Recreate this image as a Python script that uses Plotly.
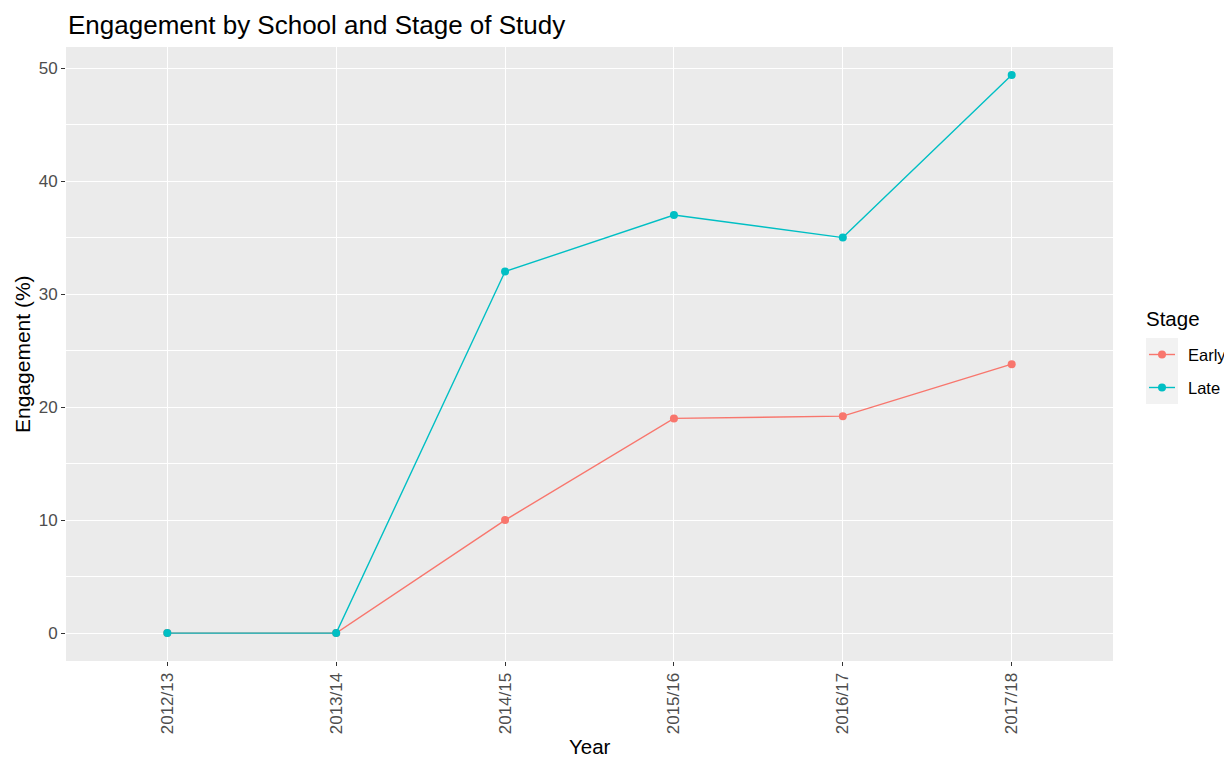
import plotly.graph_objects as go

years = ["2012/13", "2013/14", "2014/15", "2015/16", "2016/17", "2017/18"]
early = [0, 0, 10.0, 19.0, 19.2, 23.8]
late = [0, 0, 32.0, 37.0, 35.0, 49.4]
stage_names = ["Early", "Late"]
stage_colors = ["#F8766D", "#00BFC4"]
y_ticks = [0, 10, 20, 30, 40, 50]

FONT = "Liberation Sans, Arial, sans-serif"

# page body has an 8px margin; work in window pixels and convert
OFF = 8
W, H = 1232 - OFF, 759 - OFF
PX0, PX1, PY0, PY1 = 66, 1113, 47, 661  # panel in window pixels
L, R, T, B = PX0 - OFF, W - (PX1 - OFF), PY0 - OFF, H - (PY1 - OFF)
pw, ph = W - L - R, H - T - B


def px_x(x):
    return (x - OFF - L) / pw


def px_y(y):
    return (H - B - (y - OFF)) / ph


fig = go.Figure()
for name, vals, col in zip(stage_names, [early, late], stage_colors):
    fig.add_trace(go.Scatter(
        x=years, y=vals, name=name, mode="lines+markers",
        line=dict(color=col, width=1.4),
        marker=dict(color=col, size=8),
        showlegend=False,
    ))

# manual ggplot-style legend
shapes = []
annotations = []
key_rows = [(338, 371), (371, 404)]
for (y0, y1), name, col in zip(key_rows, stage_names, stage_colors):
    shapes.append(dict(type="rect", xref="paper", yref="paper",
                       x0=px_x(1146), x1=px_x(1178), y0=px_y(y1), y1=px_y(y0),
                       fillcolor="#F2F2F2", line=dict(width=0), layer="below"))
    yc = (y0 + y1) / 2
    shapes.append(dict(type="line", xref="paper", yref="paper",
                       x0=px_x(1149), x1=px_x(1175), y0=px_y(yc), y1=px_y(yc),
                       line=dict(color=col, width=1.4)))
    shapes.append(dict(type="circle", xref="paper", yref="paper",
                       x0=px_x(1158), x1=px_x(1166), y0=px_y(yc + 4), y1=px_y(yc - 4),
                       fillcolor=col, line=dict(color=col, width=0)))
    annotations.append(dict(text=name, xref="paper", yref="paper",
                            x=px_x(1186), y=px_y(yc), xanchor="left", yanchor="middle",
                            showarrow=False, font=dict(size=16.5, color="black", family=FONT)))

annotations.append(dict(text="Stage", xref="paper", yref="paper",
                        x=px_x(1144), y=px_y(318), xanchor="left", yanchor="middle",
                        showarrow=False, font=dict(size=20.5, color="black", family=FONT)))
annotations.append(dict(text="Year", xref="paper", yref="paper",
                        x=px_x(590), y=px_y(746), xanchor="center", yanchor="middle",
                        showarrow=False, font=dict(size=20.5, color="black", family=FONT)))
annotations.append(dict(text="Engagement (%)", xref="paper", yref="paper",
                        x=px_x(22), y=px_y(354), xanchor="center", yanchor="middle",
                        textangle=-90,
                        showarrow=False, font=dict(size=21, color="black", family=FONT)))
annotations.append(dict(text="Engagement by School and Stage of Study", xref="paper", yref="paper",
                        x=px_x(66), y=px_y(25), xanchor="left", yanchor="middle",
                        showarrow=False, font=dict(size=26, color="black", family=FONT)))

fig.update_layout(
    width=W, height=H, autosize=False,
    margin=dict(l=L, r=R, t=T, b=B),
    paper_bgcolor="white", plot_bgcolor="#EBEBEB",
    font=dict(family=FONT, color="#000000"),
    showlegend=False,
    xaxis=dict(
        type="category", categoryorder="array", categoryarray=years,
        range=[-0.6, 5.6],
        showgrid=True, gridcolor="white", gridwidth=1.3,
        ticks="outside", ticklen=4, tickcolor="#333333", tickwidth=1.2,
        tickangle=-90, tickfont=dict(size=17, color="#4D4D4D"),
        zeroline=False, showline=False,
    ),
    yaxis=dict(
        range=[-2.47, 51.87],
        tickvals=y_ticks,
        showgrid=True, gridcolor="white", gridwidth=1.3,
        minor=dict(dtick=5, tick0=5, showgrid=True, gridcolor="white", gridwidth=0.8),
        ticks="outside", ticklen=4, tickcolor="#333333", tickwidth=1.2,
        tickfont=dict(size=17, color="#4D4D4D"),
        zeroline=False, showline=False,
    ),
    shapes=shapes,
    annotations=annotations,
)

fig.write_html("out.html")
